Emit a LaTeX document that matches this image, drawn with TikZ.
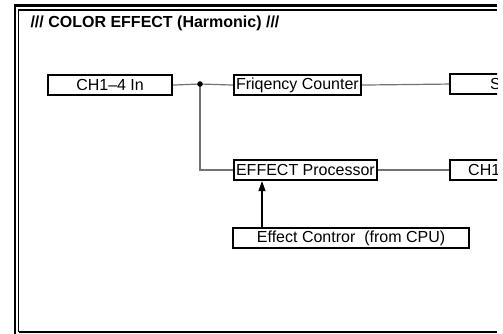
\documentclass[tikz,border=0pt]{standalone}
\usepackage{fontspec}
\setmainfont{Liberation Sans}
\usetikzlibrary{arrows.meta}

\tikzset{
	blk/.style={draw, line width=2.1pt, minimum height=20pt, inner xsep=2pt, inner ysep=0pt, anchor=north west, font=\fontsize{16}{18}\selectfont},
	wire/.style={draw=black!55, line width=1.2pt},
}

\begin{document}
\begin{tikzpicture}[x=1pt, y=-1pt]

	\useasboundingbox (0,0) rectangle (503,333);
	\begin{scope}
	\clip (0,0) rectangle (497,334);

	% frame
	\draw[line width=2.4pt] (15,334) -- (15,5.5) -- (497,5.5);
	\draw[line width=1.6pt] (18.5,332) -- (18.5,10) -- (497,10);
	\draw[line width=1.6pt] (18.5,332) -- (497,332);

	\node[anchor=base west, font=\bfseries\fontsize{16}{18}\selectfont] (title) at (27,27) {/// COLOR EFFECT (Harmonic) ///};

	% blocks
	\node[blk, minimum width=124pt] (chin) at (47,74) {CH1--4 In};
	\node[blk] (freq) at (233,74) {Friqency Counter};
	\node[blk, minimum width=120pt] (sout) at (449,73) {};
	\node[anchor=west, inner sep=0pt, font=\fontsize{16}{18}\selectfont] (souttxt) at ([xshift=41pt]sout.west) {S};
	\node[blk] (proc) at (233,159) {EFFECT Processor};
	\node[blk, minimum width=120pt] (chout) at (449,159) {};
	\node[anchor=west, inner sep=0pt, font=\fontsize{16}{18}\selectfont] (chouttxt) at ([xshift=19pt]chout.west) {CH1};
	\node[blk, minimum width=236pt] (ctrl) at (232,227) {Effect Contror\ \ (from CPU)};

	% connections
	\coordinate (split) at (200,84);
	\draw[wire] (chin.east) -- (split) -- (freq.west);
	\draw[wire] (split) |- (proc.west);
	\draw[wire] (freq.east) -- (sout.west);
	\draw[wire] (proc.east) -- (chout.west);
	\fill (split) circle (2.8pt);
	\draw[line width=1.2pt, -{Triangle[width=7pt,length=10pt]}] ([xshift=30pt]ctrl.north west) -- ([xshift=30pt]ctrl.north west |- proc.south);

	\end{scope}

\end{tikzpicture}
\end{document}
